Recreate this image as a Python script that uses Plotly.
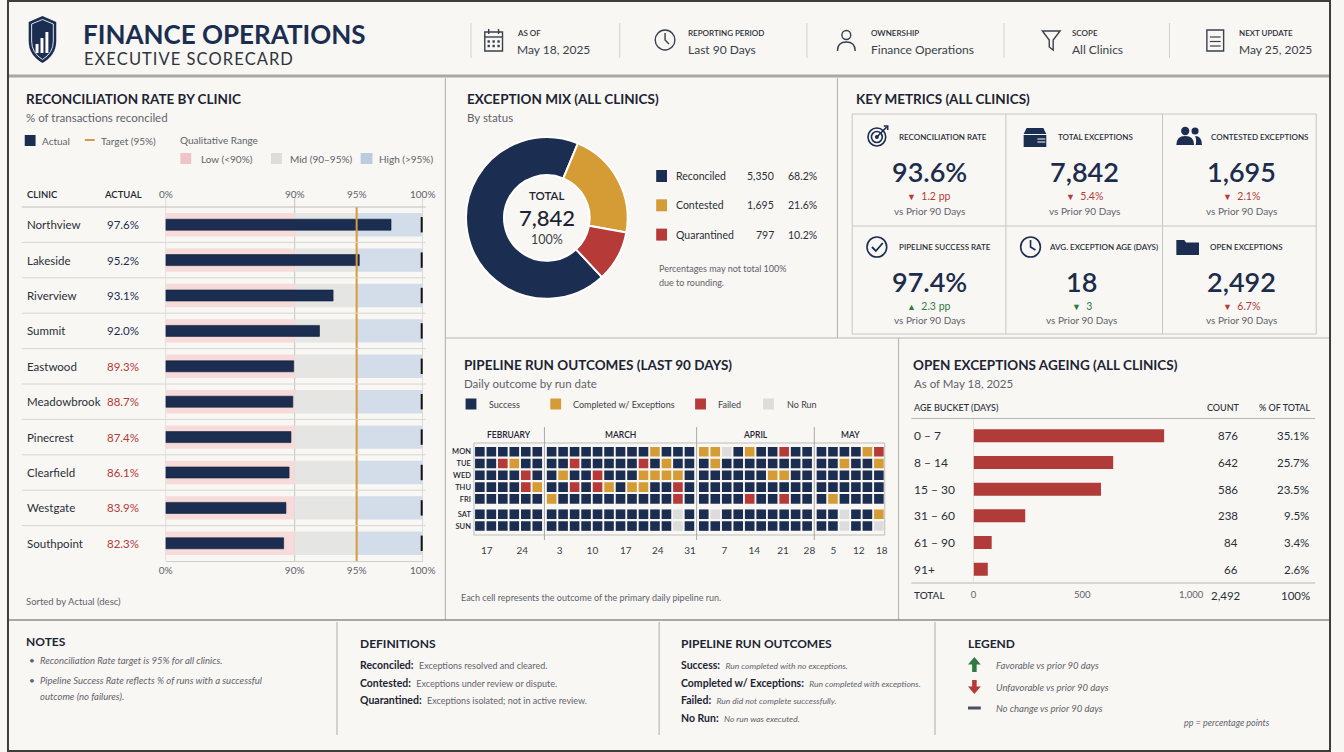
import plotly.graph_objects as go

W, H = 1344, 752
def X(px): return px / W
def Y(py): return 1 - py / H

# ---------------- palette / fonts ----------------
NAVY = "#1b2e52"; GOLD = "#d59b34"; RED = "#b53a38"; GREEN = "#2f7a45"
NORUN = "#dcdcdc"; INK = "#1d2433"; GREY = "#5f636b"; LIGHT = "#c9c9c7"
PINK = "#f6dbda"; MID = "#e5e5e3"; HIGH = "#d3dde9"; TARGET = "#d89a3e"
BARRED = "#b03b39"; BG = "#f8f7f3"; ICON = "#3a404c"
FONT = "Lato, 'Open Sans', sans-serif"

# ---------------- data ----------------
clinics = ["Northview", "Lakeside", "Riverview", "Summit", "Eastwood",
           "Meadowbrook", "Pinecrest", "Clearfield", "Westgate", "Southpoint"]
actual_pct = [97.6, 95.2, 93.1, 92.0, 89.3, 88.7, 87.4, 86.1, 83.9, 82.3]
target_pct = 95
range_lo, range_mid, range_hi = 90, 95, 100
scale_ticks = [0, 90, 95, 100]

mix_status = ["Reconciled", "Contested", "Quarantined"]
mix_count = [5350, 1695, 797]
mix_pct = [68.2, 21.6, 10.2]
mix_total = 7842

metric_labels = ["RECONCILIATION RATE", "TOTAL EXCEPTIONS", "CONTESTED EXCEPTIONS",
                 "PIPELINE SUCCESS RATE", "AVG. EXCEPTION AGE (DAYS)", "OPEN EXCEPTIONS"]
metric_values = ["93.6%", "7,842", "1,695", "97.4%", "18", "2,492"]
metric_deltas = ["1.2 pp", "5.4%", "2.1%", "2.3 pp", "3", "6.7%"]
metric_dirs = ["down", "down", "down", "up", "down", "down"]
metric_good = [False, False, False, True, True, False]

age_buckets = ["0 – 7", "8 – 14", "15 – 30", "31 – 60", "61 – 90", "91+"]
age_counts = [876, 642, 586, 238, 84, 66]
age_pct = [35.1, 25.7, 23.5, 9.5, 3.4, 2.6]
age_total = 2492

weekdays = ["MON", "TUE", "WED", "THU", "FRI", "SAT", "SUN"]
months = ["FEBRUARY", "MARCH", "APRIL", "MAY"]
# S = Success, C = Completed w/ Exceptions, F = Failed, N = No Run ; one string per weekday row
run_grid = {
    "FEBRUARY": ["SSSSSS", "SSFCSS", "SSSSFS", "SSSSFC", "SSSSSS", "SSSSSS", "SSSSSS"],
    "MARCH": ["SSSSSSSSSCSSS", "SSFSSSSSFSCSS", "SCSSFSSSCCCCS", "SSFSFCSCCSSFS",
              "CSSSSSSSSSSFS", "SSSSSSSSSSSNS", "SSSSSSSSSSSNS"],
    "APRIL": ["CCNSCSSFSS", "SCSSSSSSSS", "SSSSSSCCSS", "SSSSSSSSSS",
              "SSSSFSSFSS", "SNSSSSSSSS", "SSSSSSSSSS"],
    "MAY": ["SSSSCF", "SSCSSC", "SSSSSS", "SSSSSS", "SCSSSS", "SSNSSC", "SSNSSN"],
}
outcome_names = {"S": "Success", "C": "Completed w/ Exceptions", "F": "Failed", "N": "No Run"}
date_labels = ["17", "24", "3", "10", "17", "24", "31", "7", "14", "21", "28", "5", "12", "18"]

# ---------------- helpers ----------------
ann, shp = [], []

def T(x, y, s, size=11, color=INK, anchor="left", weight=400, xref="paper", yref="paper"):
    ann.append(dict(x=X(x) if xref == "paper" else x, y=Y(y) if yref == "paper" else y,
                    xref=xref, yref=yref, text=s, showarrow=False, xanchor=anchor,
                    yanchor="middle", borderpad=0,
                    font=dict(family=FONT, size=size, color=color, weight=weight)))

def L(x0, y0, x1, y1, color=LIGHT, width=1):
    shp.append(dict(type="line", xref="paper", yref="paper", x0=X(x0), y0=Y(y0),
                    x1=X(x1), y1=Y(y1), line=dict(color=color, width=width)))

def R(x0, y0, x1, y1, fill=None, lc=None, lw=0):
    shp.append(dict(type="rect", xref="paper", yref="paper", x0=X(x0), y0=Y(y1),
                    x1=X(x1), y1=Y(y0), fillcolor=fill or "rgba(0,0,0,0)",
                    line=dict(color=lc or "rgba(0,0,0,0)", width=lw)))

def C(cx, cy, r, fill=None, lc=None, lw=0):
    shp.append(dict(type="circle", xref="paper", yref="paper", x0=X(cx - r), x1=X(cx + r),
                    y0=Y(cy + r), y1=Y(cy - r), fillcolor=fill or "rgba(0,0,0,0)",
                    line=dict(color=lc or "rgba(0,0,0,0)", width=lw)))

def P(cmds, fill=None, lc=None, lw=0):
    out = []
    for c in cmds:
        nums = c[1:]
        pts = [f"{X(nums[i]):.5f},{Y(nums[i + 1]):.5f}" for i in range(0, len(nums), 2)]
        out.append(c[0] + " ".join(pts))
    shp.append(dict(type="path", xref="paper", yref="paper", path=" ".join(out),
                    fillcolor=fill or "rgba(0,0,0,0)",
                    line=dict(color=lc or "rgba(0,0,0,0)", width=lw)))

# bullet scale: broken axis (0-90 compressed, 90-100 expanded)
BREAKS = [(0, 0.0), (90, 0.502), (95, 0.743), (100, 1.0)]
def bpos(v):
    for (a, fa), (b, fb) in zip(BREAKS, BREAKS[1:]):
        if v <= b:
            return fa + (v - a) / (b - a) * (fb - fa)
    return 1.0

fig = go.Figure()

# ================= PANEL: Reconciliation bullet chart =================
n = len(clinics)
for lo, hi, col in [(0, range_lo, PINK), (range_lo, range_mid, MID), (range_mid, range_hi, HIGH)]:
    fig.add_trace(go.Bar(y=clinics, x=[bpos(hi) - bpos(lo)] * n, base=[bpos(lo)] * n,
                         orientation="h", width=0.66, marker=dict(color=col, line=dict(width=0)),
                         xaxis="x", yaxis="y", hoverinfo="skip", showlegend=False))
fig.add_trace(go.Bar(y=clinics, x=[bpos(v) for v in actual_pct], orientation="h", width=0.31,
                     marker=dict(color=NAVY, line=dict(width=0.6, color="#0e1a33")),
                     xaxis="x", yaxis="y", showlegend=False, name="Actual"))
fig.add_trace(go.Scatter(x=[bpos(range_hi) - 0.004] * n, y=clinics, mode="markers",
                         marker=dict(symbol="line-ns", size=11, line=dict(width=2, color="#111")),
                         xaxis="x", yaxis="y", cliponaxis=False, hoverinfo="skip", showlegend=False))
for t in [0, range_lo, range_hi]:
    shp.append(dict(type="line", xref="x", yref="y domain", x0=bpos(t), x1=bpos(t), y0=0, y1=1.03,
                    line=dict(color="#c4c4c4", width=1), layer="below"))
shp.append(dict(type="line", xref="x", yref="y domain", x0=bpos(target_pct), x1=bpos(target_pct),
                y0=0, y1=1.0, line=dict(color=TARGET, width=2)))
for i in range(n - 1):
    shp.append(dict(type="line", xref="paper", yref="y", x0=X(15), x1=X(425), y0=i + 0.5, y1=i + 0.5,
                    line=dict(color="#d6d6d4", width=1)))
for i, (c, v) in enumerate(zip(clinics, actual_pct)):
    T(19, 0, c, 11.5, "#2a2f38", xref="paper", yref="y")
    ann[-1]["y"] = c
    T(135, 0, f"{v:.1f}%", 11.5, NAVY if v >= range_lo else RED, anchor="right", yref="y")
    ann[-1]["y"] = c
for t in scale_ticks:
    ann.append(dict(x=bpos(t), xref="x", y=Y(194), yref="paper", text=f"{t}%", showarrow=False,
                    xanchor="center", yanchor="middle",
                    font=dict(family=FONT, size=10, color=GREY)))

T(18, 99, "RECONCILIATION RATE BY CLINIC", 13.5, INK, weight=700)
T(18, 117, "% of transactions reconciled", 11.5, GREY)
R(18, 135, 29, 146, fill=NAVY)
T(35, 140.5, "Actual", 10, GREY)
L(79, 140, 89, 140, TARGET, 2)
T(94, 140.5, "Target (95%)", 10, GREY)
T(175, 140, "Qualitative Range", 10, GREY)
R(176, 153, 187, 164, fill="#efc4c4")
T(196, 158.5, "Low (<90%)", 10, GREY)
R(268, 153, 279, 164, fill="#dddcda")
T(286, 158.5, "Mid (90–95%)", 10, GREY)
R(359, 153, 371, 164, fill="#bccbdd")
T(377, 158.5, "High (>95%)", 10, GREY)
T(19, 194, "CLINIC", 9.5, INK, weight=600)
T(97, 194, "ACTUAL", 9.5, INK, weight=600)
L(15, 207, 425, 207, "#bdbdbb", 1)
T(18, 601, "Sorted by Actual (desc)", 9.5, GREY)

# ================= PANEL: Exception mix donut =================
fig.add_trace(go.Pie(values=mix_count, labels=mix_status, hole=0.53, sort=False,
                     direction="clockwise", rotation=137,
                     marker=dict(colors=[NAVY, GOLD, RED], line=dict(color="white", width=2)),
                     textinfo="none", hoverinfo="label+value+percent", showlegend=False,
                     domain=dict(x=[X(466), X(630)], y=[Y(304), Y(132)])))
T(466, 99, "EXCEPTION MIX (ALL CLINICS)", 13.5, INK, weight=700)
T(466, 117, "By status", 11.5, GREY)
T(548, 195.5, "TOTAL", 11.5, INK, anchor="center", weight=600)
T(548, 217, f"{mix_total:,}", 22, INK, anchor="center", weight=500)
T(548, 239.5, "100%", 12.5, "#3a3f48", anchor="center")
for i, (s, c, p, col) in enumerate(zip(mix_status, mix_count, mix_pct, [NAVY, GOLD, RED])):
    yy = 176 + i * 29.3
    R(659, yy - 6, 670, yy + 6, fill=col)
    T(678, yy, s, 10.5, "#2a2f38")
    T(780, yy, f"{c:,}", 10.5, "#2a2f38", anchor="right")
    T(823, yy, f"{p:.1f}%", 10.5, "#2a2f38", anchor="right")
T(661, 268, "Percentages may not total 100%", 9, GREY)
T(661, 282, "due to rounding.", 9, GREY)

# ================= PANEL: Key metrics =================
T(861, 99, "KEY METRICS (ALL CLINICS)", 13.5, INK, weight=700)
R(858, 114, 1329, 334, lc="#c6c6c4", lw=1)
L(1014, 114, 1014, 334, "#c6c6c4", 1)
L(1173, 114, 1173, 334, "#c6c6c4", 1)
L(858, 226, 1329, 226, "#c6c6c4", 1)
cells = [  # (icon x, label x, value centre x, row)
    (883, 904, 936, 0), (1044, 1066, 1094, 0), (1200, 1221, 1253, 0),
    (883, 904, 936, 1), (1039, 1057, 1091, 1), (1199, 1220, 1253, 1)]
for k, (ix, lx, vx, r) in enumerate(cells):
    base = 137 + r * 110
    T(lx, base, metric_labels[k], 8, "#2a2f38", weight=600)
    T(vx, base + 34, metric_values[k], 27, "#1c2c4c", anchor="center", weight=600)
    col = GREEN if metric_good[k] else RED
    tri = "▲" if metric_dirs[k] == "up" else "▼"
    T(vx, base + 59, f"<span style='font-size:9px'>{tri}</span>  {metric_deltas[k]}", 10.5, col,
      anchor="center")
    T(vx, base + 73.5, "vs Prior 90 Days", 10, GREY, anchor="center")
# icons
C(883, 137, 9, lc=NAVY, lw=1.6); C(883, 137, 5.5, lc=NAVY, lw=1.6); C(883, 137, 2, fill=NAVY)
P([("M", 883, 137), ("L", 893, 127)], lc=NAVY, lw=1.6)
P([("M", 890, 126), ("L", 894, 126), ("L", 894, 130)], lc=NAVY, lw=1.6)
P([("M", 1035, 128), ("L", 1052, 128), ("L", 1055, 134), ("L", 1032, 134), ("Z",)], fill=NAVY)
P([("M", 1032, 135), ("L", 1055, 135), ("L", 1055, 147), ("L", 1032, 147), ("Z",)], fill=NAVY)
L(1046, 139, 1054, 139, "white", 1); L(1046, 142, 1054, 142, "white", 1)
C(1196, 131, 4.2, fill=NAVY); C(1206, 131, 3.6, fill=NAVY)
P([("M", 1187, 145), ("Q", 1187, 136, 1196, 136), ("Q", 1205, 136, 1205, 145), ("Z",)], fill=NAVY)
P([("M", 1206.5, 145), ("L", 1213, 145), ("Q", 1213, 136, 1206, 136), ("Q", 1208, 140, 1206.5, 145), ("Z",)], fill=NAVY)
C(883, 247, 10, lc=NAVY, lw=1.6)
P([("M", 878, 247), ("L", 882, 251), ("L", 889, 243)], lc=NAVY, lw=1.8)
C(1039, 247, 10, lc=NAVY, lw=1.6)
P([("M", 1039, 240), ("L", 1039, 247), ("L", 1044, 250)], lc=NAVY, lw=1.6)
P([("M", 1187, 240), ("L", 1195, 240), ("L", 1197, 242.5), ("L", 1210, 242.5), ("L", 1210, 255),
   ("L", 1187, 255), ("Z",)], fill=NAVY)

# ================= PANEL: Pipeline run outcomes =================
MONTH_GAP = 0.25
xs = {k: [] for k in outcome_names}; ys = {k: [] for k in outcome_names}
col0 = 0
month_spans = []
for m_i, m in enumerate(months):
    rows = run_grid[m]
    ncol = len(rows[0])
    month_spans.append((col0 + m_i * MONTH_GAP, col0 + ncol - 1 + m_i * MONTH_GAP))
    for d_i, row in enumerate(rows):
        for c_i, code in enumerate(row):
            xs[code].append(col0 + c_i + m_i * MONTH_GAP)
            ys[code].append(d_i + (0.3 if d_i >= 5 else 0))
    col0 += ncol
ocol = {"S": NAVY, "C": GOLD, "F": RED, "N": NORUN}
for code in ["S", "C", "F", "N"]:
    fig.add_trace(go.Scatter(x=xs[code], y=ys[code], mode="markers", name=outcome_names[code],
                             marker=dict(symbol="square", size=9.6, color=ocol[code], line=dict(width=0)),
                             xaxis="x2", yaxis="y2", showlegend=False, hoverinfo="name"))
shp.append(dict(type="rect", xref="x2 domain", yref="y2 domain", x0=0, x1=1, y0=0, y1=1,
                line=dict(color="#bdbdbb", width=1)))
for (a0, a1), (b0, b1) in zip(month_spans, month_spans[1:]):
    xm = (a1 + b0) / 2
    shp.append(dict(type="line", xref="x2", yref="paper", x0=xm, x1=xm, y0=Y(540), y1=Y(427),
                    line=dict(color="#a9a9a7", width=1)))
for m, (a0, a1) in zip(months, month_spans):
    ann.append(dict(x=(a0 + a1) / 2, xref="x2", y=Y(435), yref="paper", text=m, showarrow=False,
                    xanchor="center", yanchor="middle", font=dict(family=FONT, size=8.5, color=INK, weight=600)))
date_tick_cols = [0.6, 3.7, 6.95, 9.8, 12.7, 15.5, 18.3, 21.3, 23.9, 26.4, 28.7, 30.8, 33.0, 35.0]

T(463, 365, "PIPELINE RUN OUTCOMES (LAST 90 DAYS)", 13.5, INK, weight=700)
T(463, 383, "Daily outcome by run date", 11.5, GREY)
for sx, tx, code in [(471, 488, "S"), (557, 574, "C"), (704, 721, "F"), (773, 791, "N")]:
    R(sx - 5.5, 398.5, sx + 5.5, 409.5, fill=ocol[code])
    T(tx, 404, outcome_names[code], 9, "#3a3f48")
T(460, 597, "Each cell represents the outcome of the primary daily pipeline run.", 9, GREY)

# ================= PANEL: Ageing =================
fig.add_trace(go.Bar(y=age_buckets, x=age_counts, orientation="h", width=0.49,
                     marker=dict(color=BARRED, line=dict(width=0)), xaxis="x3", yaxis="y3",
                     showlegend=False, name="Count"))
T(919, 365, "OPEN EXCEPTIONS AGEING (ALL CLINICS)", 13.5, INK, weight=700)
T(920, 383, "As of May 18, 2025", 11.5, GREY)
T(920, 408, "AGE BUCKET (DAYS)", 9, "#2a2f38", weight=500)
T(1253, 408, "COUNT", 9, "#2a2f38", anchor="right", weight=500)
T(1324, 408, "% OF TOTAL", 9, "#2a2f38", anchor="right", weight=500)
L(918, 418.5, 1328, 418.5, "#b5b5b3", 1)
L(918, 583, 1328, 583, "#b5b5b3", 1)
shp.append(dict(type="line", xref="x3", yref="y3 domain", x0=0, x1=0, y0=0, y1=1.02,
                line=dict(color="#cfcfcd", width=1)))
for b, c, p in zip(age_buckets, age_counts, age_pct):
    T(920, 0, b, 12, "#2a2f38", yref="y3"); ann[-1]["y"] = b
    T(1251, 0, f"{c:,}", 11.5, "#2a2f38", anchor="right", yref="y3"); ann[-1]["y"] = b
    T(1323, 0, f"{p:.1f}%", 11.5, "#2a2f38", anchor="right", yref="y3"); ann[-1]["y"] = b
T(920, 595, "TOTAL", 10, "#2a2f38", weight=500)
T(1254, 595, f"{age_total:,}", 11.5, "#2a2f38", anchor="right")
T(1324, 595, "100%", 11.5, "#2a2f38", anchor="right")

# ================= HEADER =================
P([("M", 22, 22), ("L", 36, 16), ("L", 50, 22), ("L", 50, 41), ("Q", 50, 55, 36, 63),
   ("Q", 22, 55, 22, 41), ("Z",)], fill=NAVY)
P([("M", 25, 24), ("L", 36, 19.5), ("L", 47, 24), ("L", 47, 41), ("Q", 47, 53, 36, 59.5),
   ("Q", 25, 53, 25, 41), ("Z",)], lc="rgba(255,255,255,0.85)", lw=1)
R(29, 44, 32, 53, fill="white"); R(34, 38, 37, 53, fill="white"); R(39, 32, 42, 53, fill="white")
T(76, 34, "FINANCE OPERATIONS", 26, NAVY, weight=700)
T(77, 59, "\u200a".join("EXECUTIVE SCORECARD"), 16.5, "#2f3440")
for sx in [471, 622, 812, 1012, 1180]:
    L(sx, 23, sx, 58, "#d0d0ce", 1)
hdr = [(517, "AS OF", "May 18, 2025"), (690, "REPORTING PERIOD", "Last 90 Days"),
       (876, "OWNERSHIP", "Finance Operations"), (1080, "SCOPE", "All Clinics"),
       (1250, "NEXT UPDATE", "May 25, 2025")]
for hx, k, v in hdr:
    T(hx, 33, k, 8, "#2a2f38", weight=600)
    T(hx, 49.5, v, 12, "#3a3f48")
# header icons
R(485, 32, 503, 51, lc=ICON, lw=1.4); L(485, 37, 503, 37, ICON, 1.4)
L(489, 29, 489, 34, ICON, 1.4); L(499, 29, 499, 34, ICON, 1.4)
for gx in [489, 494, 499]:
    for gy in [41.5, 46]:
        R(gx - 1.2, gy - 1.2, gx + 1.2, gy + 1.2, fill=ICON)
C(668, 40, 10, lc=ICON, lw=1.4)
P([("M", 668, 33), ("L", 668, 40), ("L", 672, 44)], lc=ICON, lw=1.4)
C(852, 35, 4.5, lc=ICON, lw=1.4)
P([("M", 843, 51), ("Q", 843, 42, 852, 42), ("Q", 861, 42, 861, 51)], lc=ICON, lw=1.4)
P([("M", 1051, 31), ("L", 1069, 31), ("L", 1062, 40), ("L", 1062, 50), ("L", 1058, 47),
   ("L", 1058, 40), ("Z",)], lc=ICON, lw=1.4)
R(1218, 30, 1235, 51, lc=ICON, lw=1.4)
for ly in [37, 41.5, 46]:
    L(1221, ly, 1232, ly, ICON, 1.2)

# ================= FOOTER =================
T(18, 641, "NOTES", 12, INK, weight=700)
T(21, 660, "•", 10, GREY); T(32, 660, "<i>Reconciliation Rate target is 95% for all clinics.</i>", 9.5, GREY)
T(21, 680, "•", 10, GREY); T(32, 680, "<i>Pipeline Success Rate reflects % of runs with a successful</i>", 9.5, GREY)
T(32, 696, "<i>outcome (no failures).</i>", 9.5, GREY)
T(357, 643, "DEFINITIONS", 12, INK, weight=700)
defs = [("Reconciled:", "Exceptions resolved and cleared."),
        ("Contested:", "Exceptions under review or dispute."),
        ("Quarantined:", "Exceptions isolated; not in active review.")]
for i, (a, b) in enumerate(defs):
    T(357, 665 + i * 17.5, f"<b>{a}</b>  <span style='font-size:9px;color:{GREY}'>{b}</span>", 10.5, INK)
T(683, 643, "PIPELINE RUN OUTCOMES", 12, INK, weight=700)
outs = [("Success:", "Run completed with no exceptions."),
        ("Completed w/ Exceptions:", "Run completed with exceptions."),
        ("Failed:", "Run did not complete successfully."),
        ("No Run:", "No run was executed.")]
for i, (a, b) in enumerate(outs):
    T(683, 665 + i * 17.7, f"<b>{a}</b>  <span style='font-size:8.5px;color:{GREY}'><i>{b}</i></span>", 10.5, INK)
T(974, 643, "LEGEND", 12, INK, weight=700)
P([("M", 982, 657), ("L", 988.5, 664.5), ("L", 984.3, 664.5), ("L", 984.3, 672), ("L", 979.7, 672),
   ("L", 979.7, 664.5), ("L", 975.5, 664.5), ("Z",)], fill=GREEN)
P([("M", 982, 694), ("L", 988.5, 686.5), ("L", 984.3, 686.5), ("L", 984.3, 680), ("L", 979.7, 680),
   ("L", 979.7, 686.5), ("L", 975.5, 686.5), ("Z",)], fill=RED)
L(975.5, 708, 988.5, 708, "#4a5060", 3)
T(1003, 665, "<i>Favorable vs prior 90 days</i>", 9.5, GREY)
T(1003, 687, "<i>Unfavorable vs prior 90 days</i>", 9.5, GREY)
T(1003, 708, "<i>No change vs prior 90 days</i>", 9.5, GREY)
T(1283, 722, "<i>pp = percentage points</i>", 9, GREY, anchor="right")

# ================= PANEL FRAMES =================
L(0, 76, 1344, 76, "#a8a8a6", 3)
L(445, 78, 445, 620, "#b8b8b6", 1.2)
L(843, 78, 843, 338, "#b8b8b6", 1.2)
L(445, 338, 1344, 338, "#b8b8b6", 1.2)
L(905, 338, 905, 620, "#b8b8b6", 1.2)
L(0, 620, 1344, 620, "#8c8c8a", 1.5)
for sx in [335, 662, 942]:
    L(sx, 622, sx, 735, "#b8b8b6", 1.2)
R(1, 1, 1343, 751, lc="#3e3e3e", lw=2)

# ================= LAYOUT =================
fig.update_layout(
    width=W, height=H, autosize=False, margin=dict(l=0, r=0, t=0, b=0),
    paper_bgcolor=BG, plot_bgcolor="rgba(0,0,0,0)", barmode="overlay",
    font=dict(family=FONT, color=INK), showlegend=False,
    annotations=ann, shapes=shp,
    xaxis=dict(domain=[X(161), X(422)], range=[0, 1], showgrid=False, zeroline=False,
               tickvals=[bpos(t) for t in scale_ticks], ticktext=[f"{t}%" for t in scale_ticks],
               tickfont=dict(size=10, color=GREY), ticks="", showline=True, linecolor="#cfcfcd",
               fixedrange=True, anchor="y"),
    yaxis=dict(domain=[Y(561), Y(207)], type="category", categoryorder="array",
               categoryarray=clinics, range=[n - 0.5, -0.5], showticklabels=False,
               showgrid=False, zeroline=False, fixedrange=True, anchor="x"),
    xaxis2=dict(domain=[X(474), X(891)], range=[-0.515, 35.26], showgrid=False, zeroline=False,
                tickvals=date_tick_cols, ticktext=date_labels, ticks="",
                tickfont=dict(size=10, color="#3a3f48"), ticklabelstandoff=8,
                fixedrange=True, anchor="y2"),
    yaxis2=dict(domain=[Y(535), Y(443)], range=[7.06, -0.74], showgrid=False, zeroline=False,
                tickvals=[i + (0.3 if i >= 5 else 0) for i in range(7)], ticktext=weekdays,
                tickfont=dict(size=7.5, color=INK, weight=600), ticks="", ticklabelstandoff=2,
                fixedrange=True, anchor="x2"),
    xaxis3=dict(domain=[X(981), X(1202)], range=[0, 1000], showgrid=False, zeroline=False,
                tickvals=[0, 500, 1000], ticktext=["0", "500", "1,000"], ticks="",
                tickfont=dict(size=9.5, color=GREY), ticklabelstandoff=5,
                fixedrange=True, anchor="y3"),
    yaxis3=dict(domain=[Y(582.5), Y(422.5)], type="category", categoryorder="array",
                categoryarray=age_buckets, range=[len(age_buckets) - 0.5, -0.5],
                showticklabels=False, showgrid=False, zeroline=False, fixedrange=True, anchor="x3"),
)

fig.write_html("out.html", config={"displayModeBar": False},
               post_script="document.body.style.margin='0';document.body.style.overflow='hidden';")
